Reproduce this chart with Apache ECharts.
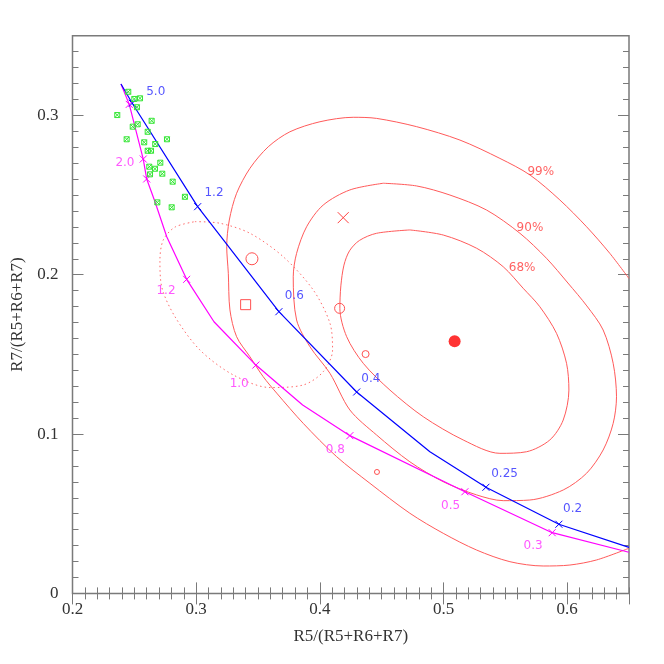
<!DOCTYPE html>
<html><head><meta charset="utf-8">
<script src="https://cdn.jsdelivr.net/npm/echarts/dist/echarts.min.js"></script>
<style>html,body{margin:0;padding:0;background:#fff}#c{width:664px;height:664px}</style>
</head><body><div id="c"></div>
<script>
// ---- data ----
const xTicks = [0.2, 0.3, 0.4, 0.5, 0.6];
const yTicks = [0, 0.1, 0.2, 0.3];

const blueLine = [[0.2392,0.3197],[0.2483,0.3076],[0.3012,0.2427],[0.3669,0.1768],[0.4298,0.1264],[0.4890,0.0889],[0.5343,0.0666],[0.5933,0.0434],[0.6500,0.0289]];
const blueMarks = [[0.2483,0.3076],[0.3012,0.2427],[0.3669,0.1768],[0.4298,0.1264],[0.5343,0.0666],[0.5933,0.0434]];
const blueLabels = [[0.2673,0.3145,'5.0'],[0.3144,0.2516,'1.2'],[0.3793,0.1868,'0.6'],[0.4413,0.1347,'0.4'],[0.5494,0.0749,'0.25'],[0.6044,0.0530,'0.2']];

const magentaLine = [[0.2392,0.3197],[0.2459,0.3069],[0.2572,0.2726],[0.2600,0.2601],[0.2667,0.2458],[0.2762,0.2238],[0.2923,0.1971],[0.3144,0.1705],[0.3483,0.1433],[0.3861,0.1182],[0.4243,0.0990],[0.5173,0.0638],[0.5879,0.0381],[0.6499,0.0258]];
const magentaMarks = [[0.2459,0.3069],[0.2572,0.2726],[0.2600,0.2601],[0.2923,0.1971],[0.3483,0.1433],[0.4243,0.0990],[0.5173,0.0638],[0.5879,0.0381]];
const magentaLabels = [[0.2424,0.2703,'2.0'],[0.2756,0.1898,'1.2'],[0.3348,0.1318,'1.0'],[0.4125,0.0900,'0.8'],[0.5057,0.0550,'0.5'],[0.5725,0.0299,'0.3']];

const greenPts = [[0.2451,0.3148],[0.2500,0.3103],[0.2546,0.3107],[0.2521,0.3051],[0.2362,0.3002],[0.2640,0.2966],[0.2487,0.2929],[0.2527,0.2944],[0.2608,0.2897],[0.2438,0.2850],[0.2764,0.2850],[0.2580,0.2831],[0.2669,0.2820],[0.2608,0.2778],[0.2635,0.2778],[0.2710,0.2703],[0.2621,0.2678],[0.2667,0.2665],[0.2627,0.2630],[0.2726,0.2634],[0.2810,0.2584],[0.2909,0.2489],[0.2686,0.2454],[0.2802,0.2423]];

const contour68 = [[0.4728,0.2281],[0.4998,0.2249],[0.5268,0.2166],[0.5483,0.2050],[0.5644,0.1915],[0.5779,0.1799],[0.5914,0.1632],[0.5995,0.1444],[0.6014,0.1276],[0.5968,0.1088],[0.5860,0.0963],[0.5672,0.0889],[0.5456,0.0879],[0.5159,0.0963],[0.4836,0.1109],[0.4567,0.1276],[0.4351,0.1444],[0.4217,0.1611],[0.4162,0.1789],[0.4170,0.1930],[0.4195,0.2060],[0.4240,0.2150],[0.4320,0.2215],[0.4459,0.2260],[0.4728,0.2281]];
const contour90 = [[0.4513,0.2574],[0.4783,0.2557],[0.5052,0.2500],[0.5348,0.2406],[0.5618,0.2260],[0.5833,0.2103],[0.6006,0.1948],[0.6159,0.1804],[0.6291,0.1653],[0.6372,0.1444],[0.6399,0.1234],[0.6372,0.1067],[0.6291,0.0900],[0.6157,0.0754],[0.5968,0.0649],[0.5698,0.0586],[0.5483,0.0582],[0.5268,0.0618],[0.4998,0.0701],[0.4728,0.0826],[0.4459,0.0994],[0.4243,0.1151],[0.4082,0.1381],[0.3920,0.1548],[0.3812,0.1716],[0.3785,0.1987],[0.3812,0.2134],[0.3893,0.2301],[0.4027,0.2437],[0.4243,0.2532],[0.4513,0.2574]];
const contour99 = [[0.6499,0.1977],[0.6345,0.2134],[0.6157,0.2301],[0.5941,0.2469],[0.5699,0.2626],[0.5456,0.2730],[0.5133,0.2845],[0.4783,0.2929],[0.4459,0.2981],[0.4270,0.2988],[0.4001,0.2960],[0.3758,0.2897],[0.3583,0.2803],[0.3435,0.2668],[0.3327,0.2511],[0.3268,0.2343],[0.3247,0.2176],[0.3260,0.2009],[0.3273,0.1779],[0.3327,0.1611],[0.3435,0.1485],[0.3542,0.1360],[0.3651,0.1257],[0.3866,0.1067],[0.4136,0.0858],[0.4405,0.0691],[0.4728,0.0503],[0.4998,0.0377],[0.5268,0.0272],[0.5537,0.0199],[0.5806,0.0172],[0.6022,0.0178],[0.6238,0.0210],[0.6499,0.0283]];
const dottedEllipse = [[0.2990,0.2333],[0.3192,0.2323],[0.3435,0.2260],[0.3704,0.2113],[0.3947,0.1904],[0.4082,0.1695],[0.4103,0.1527],[0.4027,0.1391],[0.3866,0.1308],[0.3597,0.1292],[0.3300,0.1371],[0.3031,0.1527],[0.2829,0.1736],[0.2721,0.1925],[0.2707,0.2092],[0.2734,0.2218],[0.2829,0.2299],[0.2990,0.2333]];
const contourLabels = [[0.5787,0.2646,'99%'],[0.5699,0.2295,'90%'],[0.5636,0.2046,'68%']];

const bestFit = [0.5090,0.1582];
const bigCircle = [0.3451,0.2100];
const openSquare = [0.3400,0.1812];
const midCircle = [0.4160,0.1789];
const redCross = [0.4189,0.2358];
const smallCircle = [0.4370,0.1502];
const tinyCircle = [0.4462,0.0762];

// ---- chart ----
const SERIF = 'Liberation Serif';
const AX = '#7a7a7a';
const CROSS = 'path://M0,0L10,10M10,0L0,10';
const GREEN = 'path://M0,0L10,0L10,10L0,10ZM0,0L10,10M10,0L0,10';

function fmt(v){ return v === 0 ? '0' : String(+v.toFixed(2)); }
function xAx(pos, interval, len, labels){
  return {type:'value', position:pos, min:0.2, max:0.65, interval:interval,
    axisLine:{show:false}, splitLine:{show:false},
    axisTick:{show:true, inside:true, length:len, lineStyle:{color:AX, width:1}},
    axisLabel:{show:labels, showMaxLabel:false, margin:8, color:'#333', fontFamily:SERIF, fontSize:17,
      formatter:v => xTicks.some(t=>Math.abs(t-v)<1e-9) ? fmt(v) : ''},
    name: labels ? 'R5/(R5+R6+R7)' : '', nameLocation:'middle', nameGap:35,
    nameTextStyle:{color:'#333', fontFamily:SERIF, fontSize:17}};
}
function yAx(pos, interval, len, labels){
  return {type:'value', position:pos, min:0, max:0.35, interval:interval,
    axisLine:{show:false}, splitLine:{show:false},
    axisTick:{show:true, inside:true, length:len, lineStyle:{color:AX, width:1}},
    axisLabel:{show:labels, showMaxLabel:false, margin:14, color:'#333', fontFamily:SERIF, fontSize:17,
      formatter:v => yTicks.some(t=>Math.abs(t-v)<1e-9) ? fmt(v) : ''},
    name: labels ? 'R7/(R5+R6+R7)' : '', nameLocation:'middle', nameGap:46, nameRotate:90,
    nameTextStyle:{color:'#333', fontFamily:SERIF, fontSize:17}};
}
function line(data, color, width, type, smooth){
  return {type:'line', data:data, symbol:'none', silent:true, clip:true, smooth:smooth||false,
    lineStyle:{color:color, width:width, type:type||'solid'}, z:2};
}
function marks(data, symbol, size, stroke, fill, z){
  return {type:'scatter', data:data, symbol:symbol, symbolSize:size, silent:true,
    itemStyle:{color:fill||'transparent', borderColor:stroke, borderWidth:1, opacity:1}, z:z||3};
}
function labels(data, color){
  return {type:'scatter', symbolSize:1, silent:true, itemStyle:{color:'transparent'},
    data:data.map(d=>({value:[d[0],d[1]], name:d[2]})),
    label:{show:true, position:'inside', formatter:'{b}', color:color, fontFamily:'DejaVu Sans', fontSize:12}, z:5};
}

const chart = echarts.init(document.getElementById('c'), null, {renderer:'canvas'});
chart.setOption({
  animation:false,
  backgroundColor:'#fff',
  grid:{left:72.5, right:35, top:35.7, bottom:70.6, show:true, borderColor:AX, borderWidth:1.5, backgroundColor:'transparent'},
  xAxis:[xAx('bottom',0.1,11,true), xAx('bottom',0.01,6,false), xAx('top',0.1,11,false), xAx('top',0.01,6,false)],
  yAxis:[yAx('left',0.1,11,true), yAx('left',0.01,6,false), yAx('right',0.1,11,false), yAx('right',0.01,6,false)],
  series:[
    line(contour99,'#ff5a5a',1,'solid',0.3),
    line(contour90,'#ff5a5a',1,'solid',0.3),
    line(contour68,'#ff5a5a',1,'solid',0.3),
    line(dottedEllipse,'#ff6a6a',1,[1.5,3],0.3),
    line(magentaLine,'#ff00ff',1.2),
    line(blueLine,'#0000ff',1.2),
    marks(blueMarks, CROSS, 7, '#0000ff'),
    marks(magentaMarks, CROSS, 7, '#ff00ff'),
    marks(greenPts, GREEN, 5, '#33e633'),
    marks([bigCircle], 'circle', 12, '#ff5050'),
    marks([openSquare], 'rect', 10, '#ff5050'),
    marks([midCircle], 'circle', 10, '#ff5050'),
    marks([redCross], CROSS, 11, '#ff4040'),
    marks([smallCircle], 'circle', 7, '#ff5050'),
    marks([tinyCircle], 'circle', 5, '#ff5050'),
    {type:'scatter', data:[bestFit], symbol:'circle', symbolSize:12, silent:true, itemStyle:{color:'#ff0000'}, z:4},
    labels(blueLabels,'#2a2aff'),
    labels(magentaLabels,'#ff30ff'),
    labels(contourLabels,'#ff3a3a')
  ]
});
</script></body></html>
